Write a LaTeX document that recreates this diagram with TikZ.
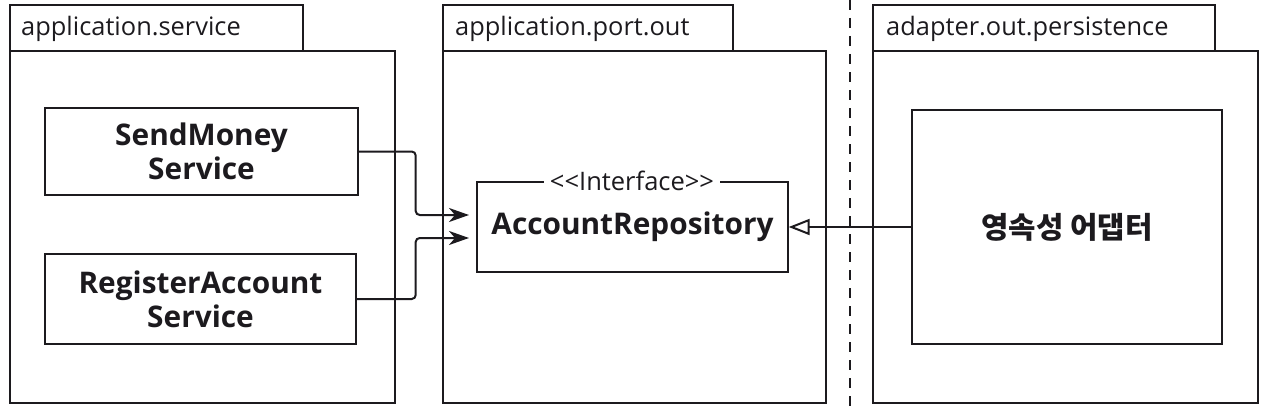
\documentclass[tikz,border=0pt]{standalone}
\usepackage{fontspec}
\setmainfont{Open Sans}
\newfontfamily\kr{Noto Sans CJK KR}
\usetikzlibrary{arrows.meta}
\definecolor{ink}{HTML}{1C1A1E}
\tikzset{
  pkg/.style={draw=ink, line width=2.8pt},
  pkgtitle/.style={anchor=west, font=\fontsize{25.4}{29}\selectfont, text=ink, inner sep=0pt},
  cls/.style={draw=ink, line width=1.4pt, align=center, text=ink, font=\bfseries\fontsize{29.8}{36}\selectfont, inner sep=0pt},
  arr/.style={draw=ink, line width=2pt, rounded corners=4pt, -{Stealth[length=20pt,width=14pt,inset=6pt]}},
  real/.style={draw=ink, line width=2pt, -{Triangle[open,length=21pt,width=16pt,line width=2pt]}},
}
\begin{document}
\begin{tikzpicture}[x=1pt,y=-1pt]
\useasboundingbox (0,0) rectangle (1268,412);
% packages
\draw[pkg] (10,5) rectangle (303,51);
\draw[pkg] (10,51) rectangle (395,403);
\node[pkgtitle] (t1) at (21,29) {application.service};
\draw[pkg] (443,5) rectangle (733,51);
\draw[pkg] (443,51) rectangle (826,403);
\node[pkgtitle] (t2) at (455,29) {application.port.out};
\draw[pkg] (873,5) rectangle (1215,51);
\draw[pkg] (873,51) rectangle (1258,403);
\node[pkgtitle] (t3) at (886,29) {adapter.out.persistence};
% boundary
\draw[draw=ink, line width=2.8pt, dash pattern=on 10pt off 8pt] (850,0) -- (850,412);
% classes
\node[cls, minimum width=313pt, minimum height=87pt] (send) at (201.5,151.5) {SendMoney\\[-2pt]Service};
\node[cls, minimum width=311pt, minimum height=90pt] (reg) at (200.5,299) {RegisterAccount\\[-2pt]Service};
\node[cls, minimum width=311pt, minimum height=90pt] (iface) at (632.5,227) {AccountRepository};
\node[fill=white, inner xsep=6pt, inner ysep=1pt, text=ink, font=\fontsize{25.5}{29}\selectfont] (stereo) at (632,181) {<{}<Interface>{}>};
\node[cls, minimum width=310pt, minimum height=234pt] (adapter) at (1067,227) {\kr 영속성 어댑터};
% connectors
\coordinate (p1) at (469,215);
\coordinate (p2) at (469,238);
\draw[arr] (send.east) -- ++(57,0) |- (p1);
\draw[arr] (reg.east) -- ++(59,0) |- (p2);
\draw[real] (adapter.west) -- (iface.east);
\end{tikzpicture}
\end{document}
